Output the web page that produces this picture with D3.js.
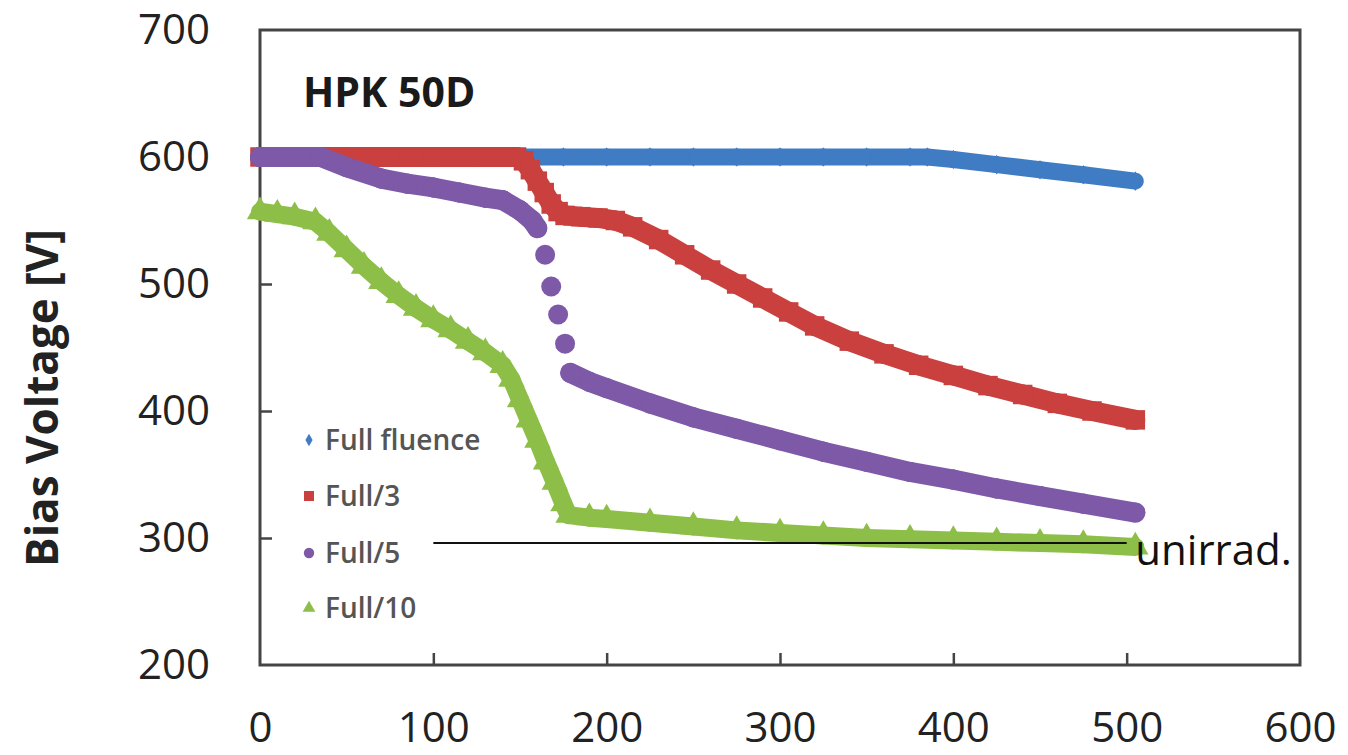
<!DOCTYPE html>
<html>
<head>
<meta charset="utf-8">
<script src="https://cdn.jsdelivr.net/npm/d3@7"></script>
<style>
  body { margin: 0; background: #fff; }
  svg { display: block; }
</style>
</head>
<body>
<div id="chart"></div>
<script>
// Bias voltage vs x - HPK 50D
const xTicks = [0, 100, 200, 300, 400, 500, 600];
const yTicks = [200, 300, 400, 500, 600, 700];

const fullFluence = [
    [0, 600], [25, 600], [50, 600], [75, 600], [100, 600], [125, 600], [150, 600], [175, 600],
    [200, 600], [225, 600], [250, 600], [275, 600], [300, 600], [325, 600], [350, 600], [375, 600],
    [385, 600], [400, 598], [425, 594], [450, 590], [475, 586], [505, 581]
];
const full3 = [
    [0, 600], [25, 600], [50, 600], [75, 600], [100, 600], [125, 600], [148, 600], [152, 597],
    [156, 590], [160, 581], [164, 572], [168, 563], [172, 557], [176, 554], [185, 553], [195, 552],
    [205, 550], [215, 545], [230, 535], [245, 523], [260, 511], [275, 500], [290, 489], [305, 478],
    [320, 467], [340, 455], [360, 445], [380, 436], [400, 428], [420, 420], [440, 413], [460, 406],
    [480, 400], [505, 393]
];
const full5 = [
    [0, 600], [15, 600], [35, 600], [50, 592], [70, 583], [85, 579], [100, 576], [115, 572],
    [130, 568], [140, 566], [150, 558], [157, 550], [160, 544], [164.5, 523], [168, 498], [172, 476],
    [176, 453], [179, 430], [190, 423], [200, 418], [225, 406], [250, 395], [275, 386], [300, 377],
    [325, 368], [350, 360], [375, 352], [400, 346], [425, 339], [450, 333], [475, 327], [505, 320]
];
const full10 = [
    [0, 557], [10, 555], [20, 553], [32, 549], [40, 540], [50, 527], [60, 514], [70, 502],
    [80, 491], [90, 481], [100, 472], [110, 464], [120, 455], [130, 446], [140, 436], [145, 425],
    [150, 409], [155, 393], [160, 377], [165, 360], [170, 344], [175, 327], [178, 318], [190, 316],
    [200, 315], [225, 312], [250, 309], [275, 306], [300, 304], [325, 302], [350, 300], [375, 299],
    [400, 298], [425, 297], [450, 296], [475, 295], [505, 293]
];
const seriesNames = ['Full fluence', 'Full/3', 'Full/5', 'Full/10'];
const unirrad = [[100, 296], [500, 296]];

const W = 1348, H = 755;
const m = { left: 260, top: 30, right: 48, bottom: 90 };

const colors = ['#3f7cc3', '#c9403f', '#7d59a8', '#8dbf48'];
const symbols = [d3.symbolDiamond, d3.symbolSquare, d3.symbolCircle, d3.symbolTriangle];
const bandW = [17, 20, 20, 18];
const symSize = [110, 380, 314, 300];

const svg = d3.select('#chart').append('svg')
    .attr('width', W).attr('height', H);

svg.append('rect').attr('width', W).attr('height', H).attr('fill', '#fff');

const x = d3.scaleLinear().domain([0, 600]).range([m.left, W - m.right]);
const y = d3.scaleLinear().domain([200, 700]).range([H - m.bottom, m.top]);

// axes (ticks point inward)
const xAxis = svg.append('g')
    .attr('transform', `translate(0,${y(200)})`)
    .call(d3.axisBottom(x).tickValues(xTicks).tickSizeInner(-12).tickSizeOuter(0).tickPadding(47));
const yAxis = svg.append('g')
    .attr('transform', `translate(${x(0)},0)`)
    .call(d3.axisLeft(y).tickValues(yTicks).tickSizeInner(-12).tickSizeOuter(0).tickPadding(50));

[xAxis, yAxis].forEach(a => {
    a.select('.domain').remove();
    a.selectAll('line').attr('stroke', '#444').attr('stroke-width', 2.5);
    a.selectAll('text')
        .attr('font-family', '"Open Sans", sans-serif')
        .attr('font-size', 42)
        .attr('fill', '#222');
});
xAxis.selectAll('.tick').filter(d => d === 0 || d === 600).select('line').remove();
yAxis.selectAll('.tick').filter(d => d === 200 || d === 700).select('line').remove();

// frame
svg.append('rect')
    .attr('x', x(0)).attr('y', y(700))
    .attr('width', x(600) - x(0)).attr('height', y(200) - y(700))
    .attr('fill', 'none').attr('stroke', '#444').attr('stroke-width', 3);

// series
const allSeries = [fullFluence, full3, full5, full10];
const lineGen = d3.line().x(d => x(d[0])).y(d => y(d[1]));

allSeries.forEach((data, i) => {
    const g = svg.append('g');
    // thick band of overlapping markers; a steep vertical jump leaves separate markers
    const pairs = d3.pairs(data).filter(([a, b]) => Math.abs(y(b[1]) - y(a[1])) < 24);
    g.selectAll('path.seg')
        .data(pairs)
        .join('path')
        .attr('class', 'seg')
        .attr('d', lineGen)
        .attr('fill', 'none')
        .attr('stroke', colors[i])
        .attr('stroke-width', bandW[i])
        .attr('stroke-linecap', 'round');
    g.selectAll('path.mk')
        .data(data)
        .join('path')
        .attr('class', 'mk')
        .attr('transform', d => `translate(${x(d[0])},${y(d[1])})`)
        .attr('d', d3.symbol().type(symbols[i]).size(symSize[i]))
        .attr('fill', colors[i]);
});

// unirradiated reference
svg.append('path')
    .attr('d', lineGen(unirrad))
    .attr('stroke', '#111').attr('stroke-width', 2).attr('fill', 'none');
svg.append('text')
    .attr('x', x(505)).attr('y', y(296) + 22)
    .attr('font-family', '"Open Sans", sans-serif')
    .attr('font-size', 42)
    .attr('fill', '#111')
    .text('unirrad.');

// title
svg.append('text')
    .attr('x', 303).attr('y', 107)
    .attr('font-family', '"Open Sans", sans-serif')
    .attr('font-weight', 700)
    .attr('font-size', 41)
    .attr('fill', '#1a1a1a')
    .text('HPK 50D');

// y label
svg.append('text')
    .attr('transform', `translate(58,${398}) rotate(-90)`)
    .attr('text-anchor', 'middle')
    .attr('font-family', '"Open Sans", sans-serif')
    .attr('font-weight', 700)
    .attr('font-size', 44)
    .attr('fill', '#222')
    .text('Bias Voltage [V]');

// legend
const legendY = [440, 496, 553, 608];
const legend = svg.append('g');
seriesNames.forEach((name, i) => {
    legend.append('path')
        .attr('transform', `translate(309,${legendY[i]})`)
        .attr('d', d3.symbol().type(symbols[i]).size([45, 100, 85, 70][i]))
        .attr('fill', colors[i]);
    legend.append('text')
        .attr('x', 325).attr('y', legendY[i])
        .attr('dy', '0.35em')
        .attr('font-family', '"Open Sans", sans-serif')
        .attr('font-weight', 600)
        .attr('font-size', 28)
        .attr('fill', '#555')
        .text(name);
});
</script>
</body>
</html>
